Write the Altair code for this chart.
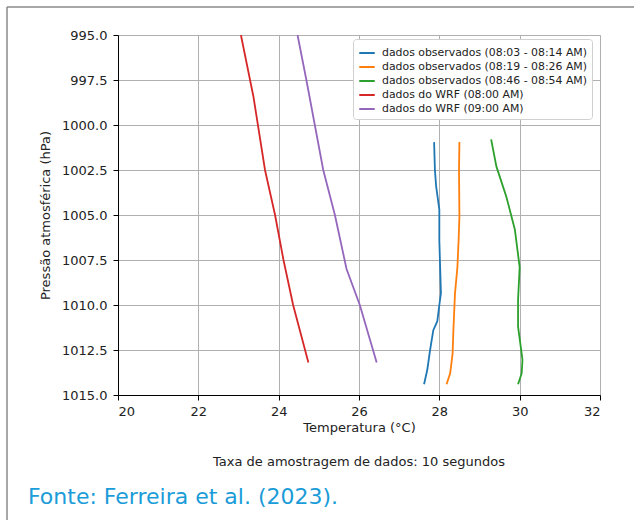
import altair as alt
import pandas as pd

# ---- data ----
series_names = [
    "dados observados (08:03 - 08:14 AM)",
    "dados observados (08:19 - 08:26 AM)",
    "dados observados (08:46 - 08:54 AM)",
    "dados do WRF (08:00 AM)",
    "dados do WRF (09:00 AM)",
]
series_colors = ["#1f77b4", "#ff7f0e", "#2ca02c", "#d62728", "#9467bd"]

blue_T = [27.87, 27.89, 27.92, 28.0, 28.0, 28.02, 28.04, 28.0, 27.95, 27.85, 27.77, 27.70, 27.62]
blue_P = [1000.95, 1002.5, 1003.4, 1004.7, 1006.4, 1007.9, 1009.35, 1010.0, 1010.9, 1011.4, 1012.5, 1013.6, 1014.4]

orange_T = [28.5, 28.49, 28.5, 28.48, 28.45, 28.39, 28.35, 28.33, 28.27, 28.18]
orange_P = [1000.95, 1002.5, 1005.1, 1006.4, 1007.9, 1009.35, 1011.4, 1012.7, 1013.8, 1014.4]

green_T = [29.29, 29.42, 29.67, 29.88, 30.0, 29.96, 29.96, 30.07, 30.05, 29.96]
green_P = [1000.8, 1002.3, 1004.0, 1005.8, 1007.9, 1009.7, 1011.2, 1013.05, 1013.8, 1014.4]

red_T = [23.06, 23.37, 23.66, 23.91, 24.12, 24.36, 24.74]
red_P = [995.0, 998.4, 1002.5, 1005.0, 1007.5, 1010.0, 1013.2]

purple_T = [24.47, 24.69, 24.9, 25.11, 25.4, 25.69, 26.02, 26.44]
purple_P = [995.0, 997.5, 1000.0, 1002.5, 1005.0, 1008.0, 1010.0, 1013.2]

x_ticks = [20, 22, 24, 26, 28, 30, 32]
y_ticks = [995.0, 997.5, 1000.0, 1002.5, 1005.0, 1007.5, 1010.0, 1012.5, 1015.0]

subtitle_text = "Taxa de amostragem de dados: 10 segundos"
source_text = "Fonte: Ferreira et al. (2023)."

# ---- build table ----
rows = []
for name, T, P in zip(series_names,
                      [blue_T, orange_T, green_T, red_T, purple_T],
                      [blue_P, orange_P, green_P, red_P, purple_P]):
    for i, (t, p) in enumerate(zip(T, P)):
        rows.append({"serie": name, "T": t, "P": p, "i": i})
df = pd.DataFrame(rows)

W, H = 482, 360
PL, PT = 118, 35

lines = alt.Chart(df).mark_line(strokeWidth=1.8, clip=True).encode(
    x=alt.X("T:Q", scale=alt.Scale(domain=[20, 32], nice=False),
            axis=alt.Axis(values=x_ticks, format="d", title="Temperatura (°C)",
                          grid=True, gridColor="#b0b0b0", domainColor="black",
                          tickColor="black", tickSize=5, labelPadding=5,
                          labelFontSize=13, titleFontSize=13, titleFontWeight="normal",
                          titlePadding=3, labelColor="#222", titleColor="#222")),
    y=alt.Y("P:Q", scale=alt.Scale(domain=[995, 1015], reverse=True, nice=False, zero=False),
            axis=alt.Axis(values=y_ticks, format=".1f", title="Pressão atmosférica (hPa)",
                          grid=True, gridColor="#b0b0b0", domainColor="black",
                          tickColor="black", tickSize=5, labelPadding=6,
                          labelFontSize=13, titleFontSize=13, titleFontWeight="normal",
                          titlePadding=9, labelColor="#222", titleColor="#222")),
    color=alt.Color("serie:N", scale=alt.Scale(domain=series_names, range=series_colors),
                    legend=alt.Legend(title=None, orient="none", legendX=235, legendY=4,
                                      symbolType="stroke", symbolStrokeWidth=2,
                                      symbolSize=240, labelFontSize=10.9,
                                      fillColor="white", strokeColor="#d0d0d0",
                                      cornerRadius=3, padding=5, rowPadding=0,
                                      labelOffset=6,
                                      labelColor="#222", labelLimit=400)),
    order="i:Q",
)

ann = pd.DataFrame({"t": [subtitle_text]})
subtitle = alt.Chart(ann).mark_text(fontSize=13, color="#222", align="center",
                                    baseline="middle").encode(
    text="t:N", x=alt.value(W / 2), y=alt.value(427))

src = pd.DataFrame({"t": [source_text]})
source = alt.Chart(src).mark_text(fontSize=22, color="#1a9cd8", align="left",
                                  baseline="alphabetic", font="DejaVu Sans").encode(
    text="t:N", x=alt.value(28 - PL), y=alt.value(504 - PT))

border_top = alt.Chart(ann).mark_rule(color="#8a8a8a", strokeWidth=1.5).encode(
    x=alt.value(7 - PL), x2=alt.value(640 - PL), y=alt.value(7 - PT))
border_left = alt.Chart(ann).mark_rule(color="#8a8a8a", strokeWidth=1.5).encode(
    x=alt.value(7 - PL), y=alt.value(7 - PT), y2=alt.value(530 - PT))

chart = alt.layer(border_top, border_left, lines, subtitle, source).properties(
    width=W, height=H,
    autosize=alt.AutoSizeParams(type="none"),
    padding={"left": PL, "top": PT, "right": 634 - PL - W, "bottom": 520 - PT - H},
    background="white",
).configure_view(stroke="black", strokeWidth=1).configure(font="DejaVu Sans")

chart.save("out.html", embed_options={"renderer": "svg", "actions": False})
